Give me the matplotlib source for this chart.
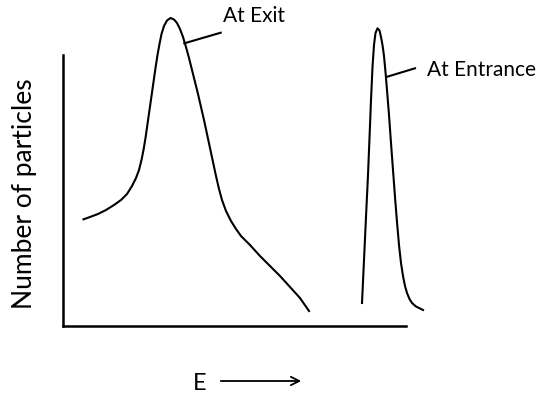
import matplotlib
matplotlib.use("Agg")
import matplotlib.pyplot as plt

# Energy (arbitrary units) and number of particles (arbitrary units)
exit_E = [20.5, 27, 35, 43, 51, 58, 64, 69, 73, 76, 78.5, 80.5, 82.5, 84.5, 86.5, 88.5,
          90.5, 92.5, 94.5, 96.5, 98.5, 101, 104, 107.5, 111, 114, 117, 120, 123, 126,
          129, 132, 135, 138, 141, 144, 147, 150, 153, 156, 159, 163, 168, 173, 178,
          187, 197, 207, 217, 227, 237, 246]
exit_N = [106.7, 109, 112, 116, 121, 126, 132, 140, 148, 156, 166, 176, 188, 202, 216, 230,
          244, 258, 271, 282, 292, 300, 305.5, 308, 306.5, 303, 297, 289, 279, 268,
          256, 244, 232, 219, 206, 192, 178, 164, 150, 137, 126, 115, 105, 97, 90,
          81, 70, 60, 50, 39, 28, 15]

entr_E = [299, 301, 303, 305, 306.7, 308, 309.5, 311, 312.5, 314.5, 316.5, 318, 319.5,
          321, 322.5, 324, 326, 328, 330, 332, 334, 336, 338, 340, 342, 344, 346.5,
          349, 353, 357, 360]
entr_N = [23, 66, 109, 151, 193, 226, 259, 281, 293, 297.7, 295.5, 289, 281,
          270, 254, 236, 211, 183, 156, 129, 104, 81, 63, 50, 40, 33, 27,
          23, 19.5, 17.5, 16]

labels = ["At Exit", "At Entrance"]
ylabel = "Number of particles"
xlabel = "E"

W, H = 548, 396
fig = plt.figure(figsize=(W / 100, H / 100), dpi=100)
ax = fig.add_axes([63 / W, (H - 326) / H, 343 / W, 271 / H])
ax.set_xlim(0, 343)
ax.set_ylim(0, 271)

lw = 1.5
ax.plot(exit_E, exit_N, color="black", lw=lw, clip_on=False, solid_joinstyle="round")
ax.plot(entr_E, entr_N, color="black", lw=lw, clip_on=False, solid_joinstyle="round")

for s in ["top", "right"]:
    ax.spines[s].set_visible(False)
for s in ["left", "bottom"]:
    ax.spines[s].set_linewidth(1.8)
ax.set_xticks([])
ax.set_yticks([])

font = "Lato"
fs = 15

# leader lines + labels
ax.plot([121.3, 157.7], [282.7, 293.3], color="black", lw=lw, clip_on=False)
ax.text(159.7, 310.5, labels[0], fontsize=fs, family=font, va="center", ha="left")
ax.plot([324.3, 352], [249.3, 257.7], color="black", lw=lw, clip_on=False)
ax.text(364.3, 256, labels[1], fontsize=fs, family=font, va="center", ha="left")

fig.text(25 / W, 1 - 194 / H, ylabel, rotation=90, fontsize=19, family=font,
         va="center", ha="center")
fig.text(200 / W, 1 - 384 / H, xlabel, fontsize=17, family=font,
         va="center", ha="center")
ax.annotate("", xy=(304, H - 381), xytext=(218, H - 381),
            xycoords="figure pixels", textcoords="figure pixels",
            arrowprops=dict(arrowstyle="->,head_length=0.6,head_width=0.3",
                            color="black", lw=1.3))

fig.savefig("out.png", dpi=100)
